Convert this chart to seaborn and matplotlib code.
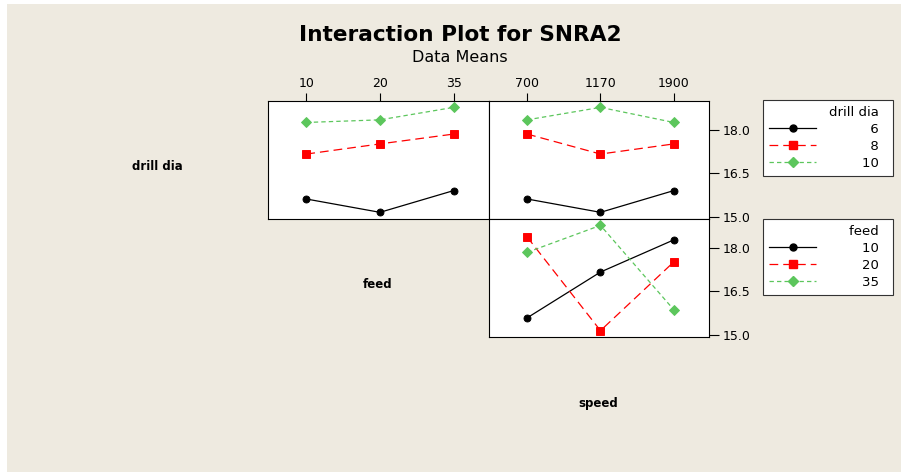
import pandas as pd
import matplotlib.pyplot as plt
import seaborn as sb
from matplotlib.lines import Line2D
from matplotlib.patches import Rectangle

# --- data (means) ---
drill_levels = ["6", "8", "10"]
feed_levels = ["10", "20", "35"]
speed_levels = ["700", "1170", "1900"]

# drill dia x feed
dd_feed_6 = [15.61, 15.15, 15.90]
dd_feed_8 = [17.16, 17.51, 17.85]
dd_feed_10 = [18.25, 18.34, 18.77]

# drill dia x speed
dd_speed_6 = [15.61, 15.15, 15.90]
dd_speed_8 = [17.85, 17.16, 17.51]
dd_speed_10 = [18.34, 18.77, 18.25]

# feed x speed
feed_speed_10 = [15.58, 17.16, 18.27]
feed_speed_20 = [18.37, 15.14, 17.51]
feed_speed_35 = [17.84, 18.77, 15.86]

y_ticks = [15.0, 16.5, 18.0]


def long_df(x_levels, hue_levels, series, xname, huename):
    rows = []
    for h, vals in zip(hue_levels, series):
        for x, v in zip(x_levels, vals):
            rows.append({xname: x, huename: h, "SNRA2": v})
    return pd.DataFrame(rows)


df_dd_feed = long_df(feed_levels, drill_levels,
                     [dd_feed_6, dd_feed_8, dd_feed_10], "feed", "drill dia")
df_dd_speed = long_df(speed_levels, drill_levels,
                      [dd_speed_6, dd_speed_8, dd_speed_10], "speed", "drill dia")
df_feed_speed = long_df(speed_levels, feed_levels,
                        [feed_speed_10, feed_speed_20, feed_speed_35], "speed", "feed")

# --- style ---
bg = "#EEEAE0"
colors = ["black", "#FF0000", "#5CC65C"]
markers = ["o", "s", "D"]
dashes = ["-", (0, (7, 4)), (0, (3.5, 2.5))]
msizes = [5, 5.5, 5]

plt.rcParams["font.family"] = ["DejaVu Sans"]

fig = plt.figure(figsize=(9.01, 4.72), dpi=100, facecolor="white")
fig.patches.append(Rectangle((7 / 901, 0), 1, 1 - 4 / 472, transform=fig.transFigure,
                             facecolor=bg, edgecolor="none", zorder=-10))

W, H = 901, 472
def place(x0, y0, x1, y1):
    return fig.add_axes([x0 / W, 1 - y1 / H, (x1 - x0) / W, (y1 - y0) / H])

ax_tl = place(268, 101, 489, 219)
ax_tr = place(489, 101, 709, 219)
ax_br = place(489, 219, 709, 337)


def draw(ax, df, xname, huename, order, hue_order):
    for i, h in enumerate(hue_order):
        sub = df[df[huename] == h]
        sb.pointplot(data=sub, x=xname, y="SNRA2", order=order, ax=ax,
                     color=colors[i], marker=markers[i], linestyle="-",
                     markersize=msizes[i], linewidth=0.9, errorbar=None)
        ax.lines[-1].set_linestyle(dashes[i])
    ax.set_xlim(-0.52, 2.48)
    ax.set_ylim(14.92, 18.99)
    ax.set_facecolor("white")
    ax.set_xlabel("")
    ax.set_ylabel("")
    for s in ax.spines.values():
        s.set_color("black")
        s.set_linewidth(0.8)


draw(ax_tl, df_dd_feed, "feed", "drill dia", feed_levels, drill_levels)
draw(ax_tr, df_dd_speed, "speed", "drill dia", speed_levels, drill_levels)
draw(ax_br, df_feed_speed, "speed", "feed", speed_levels, feed_levels)

for ax in (ax_tl, ax_tr):
    ax.xaxis.tick_top()
    ax.tick_params(axis="x", length=6, width=0.8, labelsize=9, pad=2)
ax_br.tick_params(axis="x", bottom=False, labelbottom=False)
ax_tl.tick_params(axis="y", left=False, labelleft=False)
for ax in (ax_tr, ax_br):
    ax.yaxis.tick_right()
    ax.set_yticks(y_ticks)
    ax.set_yticklabels([f"{t:.1f}" for t in y_ticks])
    ax.tick_params(axis="y", length=7, width=0.8, labelsize=9, pad=3)

# row / column labels
fig.text(157 / W, 1 - 167 / H, "drill dia", ha="center", va="center",
         fontsize=8.5, fontweight="bold")
fig.text(378 / W, 1 - 284 / H, "feed", ha="center", va="center",
         fontsize=8.5, fontweight="bold")
fig.text(598 / W, 1 - 403 / H, "speed", ha="center", va="center",
         fontsize=8.5, fontweight="bold")

# titles
fig.text(460 / W, 1 - 35 / H, "Interaction Plot for SNRA2", ha="center",
         va="center", fontsize=15.6, fontweight="bold")
fig.text(460 / W, 1 - 58 / H, "Data Means", ha="center", va="center",
         fontsize=11.5)


# legends
def make_legend(title, labels, top):
    handles = [Line2D([], [], color=colors[i], marker=markers[i],
                      linestyle=dashes[i], markersize=msizes[i], linewidth=0.9)
               for i in range(3)]
    labs = [l.rjust(2, "\u2007") + "\u2007" for l in labels]
    leg = fig.legend(handles, labs, title=title + "\u2007", loc="upper left",
                     bbox_to_anchor=(763 / W, 1 - top / H), borderaxespad=0,
                     fontsize=9.5, title_fontsize=9.5, handlelength=3.6,
                     handletextpad=3.45, labelspacing=0.3, borderpad=0.45,
                     fancybox=False, edgecolor="#333333", framealpha=1,
                     alignment="right")
    leg.get_frame().set_linewidth(0.8)
    return leg


make_legend("drill dia", drill_levels, 100)
make_legend("feed", feed_levels, 219)

plt.savefig("out.png", dpi=100, facecolor=fig.get_facecolor())
